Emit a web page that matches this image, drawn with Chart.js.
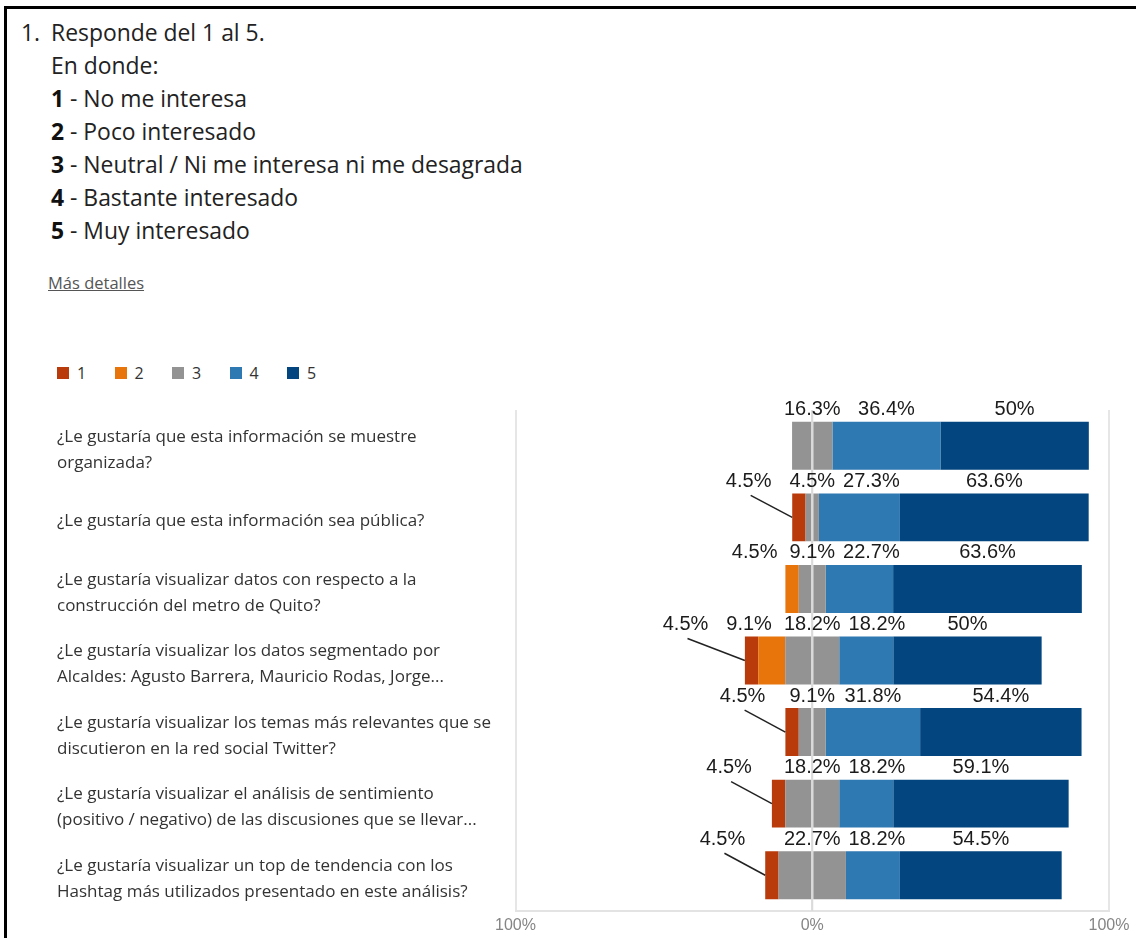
<!DOCTYPE html>
<html lang="es">
<head>
<meta charset="utf-8">
<title>Responde del 1 al 5</title>
<script src="https://cdn.jsdelivr.net/npm/chart.js@4.4.1/dist/chart.umd.min.js"></script>
<style>
  html, body { margin: 0; padding: 0; background: #fff; }
  body { width: 1136px; height: 938px; position: relative; overflow: hidden; font-family: "Open Sans", "Noto Sans", sans-serif; }
  #frame { position: absolute; left: 4px; top: 6px; right: 0; bottom: 0; border-left: 3px solid #000; border-top: 3px solid #000; }
  #question { position: absolute; left: 0; top: 16px; font-size: 22.9px; line-height: 33px; color: #222; }
  #question div { padding-left: 51px; white-space: nowrap; }
  #question .num { position: absolute; left: 21px; }
  #question b { font-weight: 700; color: #111; }
  #details { position: absolute; left: 48px; top: 271px; font-size: 16.5px; color: #555; text-decoration: underline; }
  #legend { position: absolute; left: 57px; top: 362px; display: flex; font-size: 16px; color: #333; }
  .item { display: flex; align-items: center; width: 57.5px; }
  .box { width: 12px; height: 12px; margin-right: 8px; }
  #chart-wrap { position: absolute; left: 0; top: 395px; width: 1136px; height: 543px; }
</style>
</head>
<body>
<div id="frame"></div>
<div id="question">
  <span class="num">1.</span>
  <div>Responde del 1 al 5.</div>
  <div>En donde:</div>
  <div><b>1</b> - No me interesa</div>
  <div><b>2</b> - Poco interesado</div>
  <div><b>3</b> - Neutral / Ni me interesa ni me desagrada</div>
  <div><b>4</b> - Bastante interesado</div>
  <div><b>5</b> - Muy interesado</div>
</div>
<div id="details">Más detalles</div>
<div id="legend"></div>
<div id="chart-wrap"><canvas id="likert"></canvas></div>

<script>
// questions (y axis)
const categories = [
    ['¿Le gustaría que esta información se muestre', 'organizada?'],
    ['¿Le gustaría que esta información sea pública?'],
    ['¿Le gustaría visualizar datos con respecto a la', 'construcción del metro de Quito?'],
    ['¿Le gustaría visualizar los datos segmentado por', 'Alcaldes: Agusto Barrera, Mauricio Rodas, Jorge...'],
    ['¿Le gustaría visualizar los temas más relevantes que se', 'discutieron en la red social Twitter?'],
    ['¿Le gustaría visualizar el análisis de sentimiento', '(positivo / negativo) de las discusiones que se llevar...'],
    ['¿Le gustaría visualizar un top de tendencia con los', 'Hashtag más utilizados presentado en este análisis?']
];

// percentages per answer
const resp1 = [0, 4.5, 0, 4.5, 4.5, 4.5, 4.5];
const resp2 = [0, 0, 4.5, 9.1, 0, 0, 0];
const resp3 = [13.6, 4.5, 9.1, 18.2, 9.1, 18.2, 22.7];
const resp4 = [36.4, 27.3, 22.7, 18.2, 31.8, 18.2, 18.2];
const resp5 = [50, 63.6, 63.6, 50, 54.4, 59.1, 54.5];

// the first neutral label reads 16.3% in the original even though the bar is 13.6%
const resp3Text = ['16.3%', null, null, null, null, null, null];

const seriesNames = ['1', '2', '3', '4', '5'];
const seriesColors = ['#b93a0b', '#e8740c', '#939393', '#2e79b2', '#03457f'];
const axisTicks = [-100, 0, 100];

// legend
const legend = document.getElementById('legend');
seriesNames.forEach((name, i) => {
    const item = document.createElement('div');
    item.className = 'item';
    item.innerHTML = '<span class="box" style="background:' + seriesColors[i] + '"></span>' + name;
    legend.appendChild(item);
});

const labelFont = '20px "Liberation Sans", Arial, sans-serif';

// percent labels above segments + zero line over the bars
const segmentLabels = {
    id: 'segmentLabels',
    afterDatasetsDraw(chart) {
        const ctx = chart.ctx;
        const area = chart.chartArea;
        const zx = chart.scales.x.getPixelForValue(0);
        ctx.save();
        ctx.strokeStyle = '#dadada';
        ctx.lineWidth = 2;
        ctx.beginPath();
        ctx.moveTo(zx, area.top);
        ctx.lineTo(zx, area.bottom);
        ctx.stroke();

        ctx.font = labelFont;
        ctx.fillStyle = '#1b1b1b';
        ctx.textAlign = 'center';
        ctx.textBaseline = 'middle';
        ctx.strokeStyle = '#222';
        ctx.lineWidth = 1.5;

        const el = (d, i) => chart.getDatasetMeta(d).data[i];
        const fmt = v => v + '%';

        categories.forEach((c, i) => {
            const ref = el(4, i);
            const top = ref.y - ref.height / 2;
            const y = top - 12;

            // neutral, centred on zero
            let rightEdge = zx, leftEdge = zx;
            if (resp3[i] > 0) {
                const txt = resp3Text[i] || fmt(resp3[i]);
                const l = el(0, i).x, r = el(1, i).x;
                const cx = (l + r) / 2;
                const w = ctx.measureText(txt).width;
                ctx.fillText(txt, cx, y);
                rightEdge = cx + w / 2;
                leftEdge = cx - w / 2;
            }

            // positive side
            [[4, resp4], [5, resp5]].forEach(([d, vals]) => {
                if (!vals[i]) return;
                const e = el(d, i);
                const txt = fmt(vals[i]);
                const w = ctx.measureText(txt).width;
                let cx = (e.x + e.base) / 2;
                if (cx - w / 2 < rightEdge + 8) cx = rightEdge + 8 + w / 2;
                ctx.fillText(txt, cx, y);
                rightEdge = cx + w / 2;
            });

            // negative side, answer 1 gets a leader line
            [[2, resp2, false], [3, resp1, true]].forEach(([d, vals, leader]) => {
                if (!vals[i]) return;
                const e = el(d, i);
                const txt = fmt(vals[i]);
                const w = ctx.measureText(txt).width;
                const segLeft = Math.min(e.x, e.base);
                let right;
                if (leader) right = Math.min(segLeft - 20, leftEdge - 18);
                else right = Math.min((e.x + e.base) / 2 + w / 2, leftEdge - 12);
                const cx = right - w / 2;
                ctx.fillText(txt, cx, y);
                if (leader) {
                    ctx.beginPath();
                    ctx.moveTo(cx + 2, top + 2);
                    ctx.lineTo(segLeft, top + 24);
                    ctx.stroke();
                }
                leftEdge = cx - w / 2;
            });
        });
        ctx.restore();
    }
};

const half = arr => arr.map(v => v / 2);

const likertChart = new Chart(document.getElementById('likert'), {
    type: 'bar',
    data: {
        labels: categories,
        datasets: [
            { label: '3', data: half(resp3).map(v => -v), backgroundColor: seriesColors[2] },
            { label: '3', data: half(resp3), backgroundColor: seriesColors[2] },
            { label: '2', data: resp2.map(v => -v), backgroundColor: seriesColors[1] },
            { label: '1', data: resp1.map(v => -v), backgroundColor: seriesColors[0] },
            { label: '4', data: resp4, backgroundColor: seriesColors[3] },
            { label: '5', data: resp5, backgroundColor: seriesColors[4] }
        ]
    },
    options: {
        indexAxis: 'y',
        responsive: true,
        maintainAspectRatio: false,
        animation: false,
        layout: { padding: { left: 57, right: 27, top: 15, bottom: 0 } },
        datasets: {
            bar: { barPercentage: 0.67, categoryPercentage: 1, borderWidth: 0 }
        },
        scales: {
            x: {
                stacked: true,
                min: -100,
                max: 100,
                afterBuildTicks: scale => { scale.ticks = axisTicks.map(v => ({ value: v })); },
                afterFit: scale => { scale.height = 27; },
                grid: { color: '#e6e6e6', lineWidth: 2, tickLength: 0, drawTicks: false },
                border: { display: true, color: '#e3e3e3', width: 2 },
                ticks: {
                    padding: 5,
                    color: '#858585',
                    font: { family: '"Liberation Sans", Arial, sans-serif', size: 16 },
                    callback: v => Math.abs(v) + '%'
                }
            },
            y: {
                stacked: true,
                grid: { display: false },
                border: { display: false },
                // fixed label column; drop the half-label padding so rows fill the plot
                afterFit: scale => {
                    scale.width = 458.5;
                    scale.paddingTop = 0;
                    scale.paddingBottom = 0;
                },
                ticks: {
                    autoSkip: false,
                    crossAlign: 'far',
                    labelOffset: 4,
                    color: '#333',
                    font: { family: '"Open Sans", "Noto Sans", sans-serif', size: 17, lineHeight: 26 / 17 }
                }
            }
        },
        plugins: {
            legend: { display: false },
            tooltip: { enabled: false }
        }
    },
    plugins: [segmentLabels]
});
</script>
</body>
</html>
